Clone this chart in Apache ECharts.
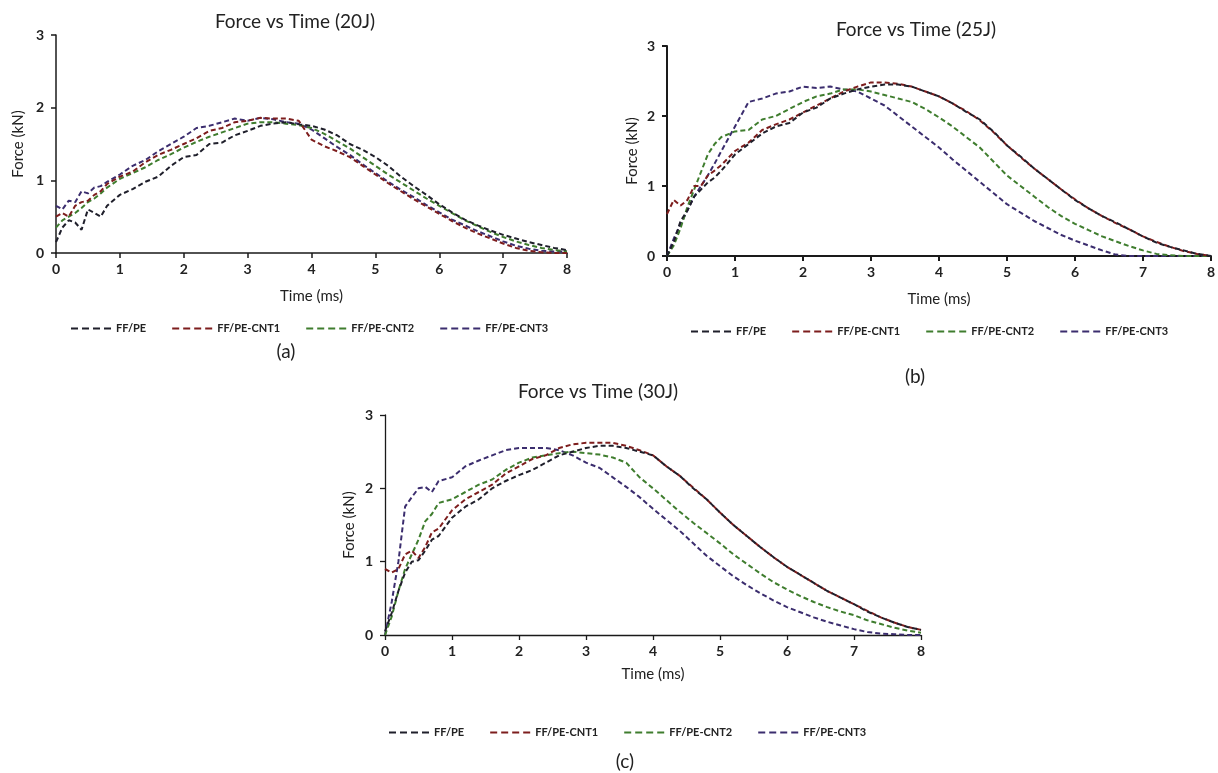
<!DOCTYPE html>
<html>
<head>
<meta charset="utf-8">
<script src="https://cdn.jsdelivr.net/npm/echarts@6/dist/echarts.min.js"></script>
<style>
html,body{margin:0;padding:0;background:#fff;}
#chart{width:1218px;height:773px;}
</style>
</head>
<body>
<div id="chart"></div>
<script>
// Time samples (ms)
const time = [0,0.1,0.2,0.3,0.4,0.5,0.6,0.7,0.8,1.0,1.2,1.4,1.6,1.8,2.0,2.2,2.4,2.6,2.8,3.0,3.2,3.4,3.6,3.8,4.0,4.2,4.4,4.6,4.8,5.0,5.2,5.4,5.6,5.8,6.0,6.2,6.4,6.6,6.8,7.0,7.2,7.4,7.6,7.8,8.0];
const seriesNames = ['FF/PE','FF/PE-CNT1','FF/PE-CNT2','FF/PE-CNT3'];
const xTicks = [0,1,2,3,4,5,6,7,8];
const yTicks = [0,1,2,3];

// (a) 20 J, force in kN
const pe20   = [0.15,0.35,0.45,0.42,0.32,0.6,0.55,0.5,0.65, 0.8,0.88,0.98,1.05,1.2,1.32,1.35,1.5,1.52,1.62,1.68,1.75,1.78,1.8,1.77,1.75, 1.7,1.62,1.5,1.42,1.32,1.2,1.05,0.92,0.8,0.67,0.56,0.46,0.38,0.31,0.25,0.2,0.15,0.11,0.07,0.04];
const cnt1_20 = [0.5,0.55,0.5,0.65,0.7,0.72,0.8,0.85,0.95, 1.05,1.12,1.25,1.35,1.42,1.5,1.58,1.68,1.72,1.8,1.82,1.86,1.85,1.85,1.82,1.56, 1.47,1.4,1.32,1.2,1.08,0.96,0.85,0.74,0.64,0.54,0.44,0.35,0.27,0.2,0.13,0.07,0.03,0.01,0.0,0.0];
const cnt2_20 = [0.35,0.45,0.5,0.55,0.62,0.7,0.75,0.82,0.9, 1.02,1.1,1.18,1.28,1.36,1.45,1.53,1.6,1.66,1.72,1.78,1.8,1.8,1.78,1.76,1.72, 1.64,1.54,1.44,1.32,1.2,1.08,0.97,0.86,0.75,0.65,0.55,0.45,0.37,0.29,0.22,0.16,0.11,0.07,0.04,0.02];
const cnt3_20 = [0.65,0.6,0.72,0.7,0.85,0.82,0.9,0.92,0.98, 1.08,1.2,1.28,1.4,1.5,1.6,1.72,1.75,1.8,1.85,1.82,1.86,1.84,1.8,1.78,1.7, 1.58,1.46,1.35,1.22,1.1,0.98,0.87,0.77,0.66,0.56,0.46,0.38,0.3,0.23,0.16,0.1,0.06,0.03,0.02,0.02];

// (b) 25 J
const pe25   = [0.0,0.2,0.5,0.65,0.85,0.95,1.05,1.12,1.22, 1.45,1.6,1.75,1.85,1.9,2.05,2.12,2.25,2.32,2.38,2.42,2.45,2.45,2.42,2.35,2.28, 2.18,2.06,1.95,1.78,1.58,1.42,1.25,1.1,0.95,0.8,0.68,0.57,0.48,0.38,0.28,0.19,0.13,0.08,0.03,0.0];
const cnt1_25 = [0.6,0.8,0.72,0.8,1.0,1.0,1.15,1.22,1.3, 1.5,1.62,1.8,1.88,1.95,2.05,2.15,2.25,2.35,2.42,2.48,2.48,2.46,2.42,2.35,2.28, 2.18,2.07,1.94,1.77,1.58,1.41,1.25,1.1,0.95,0.81,0.68,0.57,0.47,0.38,0.28,0.2,0.13,0.07,0.03,0.0];
const cnt2_25 = [0.0,0.15,0.4,0.7,0.95,1.2,1.45,1.6,1.7, 1.78,1.8,1.95,2.0,2.1,2.2,2.28,2.32,2.38,2.38,2.35,2.3,2.25,2.2,2.1,1.98, 1.85,1.7,1.55,1.35,1.15,1.0,0.85,0.7,0.57,0.46,0.37,0.28,0.21,0.14,0.08,0.03,0.01,0.0,0.0,0.0];
const cnt3_25 = [0.0,0.25,0.45,0.65,0.85,1.0,1.15,1.32,1.5, 1.85,2.2,2.25,2.32,2.35,2.42,2.4,2.42,2.38,2.35,2.25,2.15,2.0,1.85,1.7,1.55, 1.38,1.22,1.06,0.9,0.74,0.62,0.5,0.4,0.3,0.22,0.15,0.08,0.02,0.0,0.0,0.0,0.0,0.0,0.0,0.0];

// (c) 30 J
const pe30   = [0.05,0.3,0.6,0.85,1.0,1.02,1.15,1.3,1.35, 1.6,1.75,1.85,2.0,2.1,2.18,2.25,2.35,2.45,2.5,2.55,2.58,2.58,2.55,2.5,2.45, 2.3,2.17,2.0,1.85,1.67,1.5,1.35,1.2,1.06,0.93,0.82,0.71,0.6,0.51,0.42,0.32,0.24,0.17,0.11,0.07];
const cnt1_30 = [0.9,0.85,0.9,1.1,1.15,1.05,1.2,1.4,1.45, 1.7,1.85,1.95,2.05,2.2,2.3,2.4,2.45,2.55,2.6,2.62,2.62,2.62,2.58,2.52,2.45, 2.3,2.17,2.01,1.85,1.67,1.5,1.35,1.2,1.06,0.93,0.82,0.71,0.6,0.51,0.42,0.33,0.24,0.17,0.11,0.07];
const cnt2_30 = [0.0,0.25,0.6,0.9,1.1,1.3,1.55,1.65,1.8, 1.85,1.95,2.05,2.12,2.25,2.35,2.42,2.45,2.48,2.5,2.48,2.46,2.42,2.35,2.15,2.0, 1.84,1.68,1.53,1.39,1.25,1.1,0.97,0.84,0.72,0.62,0.53,0.45,0.38,0.32,0.27,0.2,0.15,0.1,0.06,0.03];
const cnt3_30 = [0.0,0.45,1.0,1.75,1.88,2.0,2.02,1.95,2.1, 2.15,2.3,2.38,2.45,2.52,2.55,2.55,2.55,2.52,2.45,2.35,2.28,2.15,2.02,1.88,1.72, 1.57,1.42,1.25,1.08,0.94,0.8,0.68,0.57,0.47,0.38,0.31,0.24,0.18,0.13,0.08,0.04,0.02,0.01,0.0,0.0];

const colors = ['#1f1f2b','#7d1d1d','#3f7d2e','#3b2d6e'];
const FONT = 'Lato, "Open Sans", sans-serif';
const dashIcon = 'path://M0,0h7v2h-7z M11,0h7v2h-7z M22,0h7v2h-7z M33,0h7v2h-7z';

const chartsDef = [
  { title:'Force vs Time (20J)', tag:'(a)', data:[pe20,cnt1_20,cnt2_20,cnt3_20],
    grid:{left:56, top:35, width:511, height:218}, axisW:1.5, yGap:30, xGap:36,
    titlePos:[295,22], tagPos:[286,352], legendPos:[66,318], legendGap:26 },
  { title:'Force vs Time (25J)', tag:'(b)', data:[pe25,cnt1_25,cnt2_25,cnt3_25],
    grid:{left:667, top:46, width:544, height:210}, axisW:2, yGap:27, xGap:36,
    titlePos:[916,30], tagPos:[915,377], legendPos:[686,321], legendGap:26 },
  { title:'Force vs Time (30J)', tag:'(c)', data:[pe30,cnt1_30,cnt2_30,cnt3_30],
    grid:{left:385, top:415, width:536, height:220}, axisW:1.3, yGap:28, xGap:32,
    titlePos:[598,392], tagPos:[625,762], legendPos:[384,722], legendGap:26 }
];

const grid=[], xAxis=[], yAxis=[], series=[], legend=[], graphic=[];
chartsDef.forEach((c, gi) => {
  grid.push(Object.assign({containLabel:false}, c.grid));
  xAxis.push({
    type:'value', gridIndex:gi, min:xTicks[0], max:xTicks[xTicks.length-1], interval:1,
    name:'Time (ms)', nameLocation:'middle', nameGap:c.xGap,
    nameTextStyle:{fontFamily:FONT, fontSize:15, color:'#222'},
    axisLine:{onZero:false, lineStyle:{color:'#1a1a1a', width:c.axisW}},
    axisTick:{show:true, length:5, inside:false, lineStyle:{color:'#1a1a1a', width:c.axisW}},
    axisLabel:{fontFamily:FONT, fontSize:14, fontWeight:'bold', color:'#222', margin:9},
    splitLine:{show:false}
  });
  yAxis.push({
    type:'value', gridIndex:gi, min:yTicks[0], max:yTicks[yTicks.length-1], interval:1,
    name:'Force (kN)', nameLocation:'middle', nameGap:c.yGap, nameRotate:90,
    nameTextStyle:{fontFamily:FONT, fontSize:15, color:'#222'},
    axisLine:{show:true, lineStyle:{color:'#1a1a1a', width:c.axisW}},
    axisTick:{show:true, length:5, inside:false, lineStyle:{color:'#1a1a1a', width:c.axisW}},
    axisLabel:{fontFamily:FONT, fontSize:14, fontWeight:'bold', color:'#222', margin:12},
    splitLine:{show:false}
  });
  c.data.forEach((arr, si) => {
    series.push({
      type:'line', name:seriesNames[si], xAxisIndex:gi, yAxisIndex:gi,
      data: time.map((t,i)=>[t, arr[i]]),
      symbol:'none', showSymbol:false, smooth:false, animation:false,
      lineStyle:{color:colors[si], width:2, type:[5,3]},
      itemStyle:{color:colors[si]},
      z: 2 + (3-si)
    });
  });
  legend.push({
    data:seriesNames.map(n=>({name:n, icon:dashIcon})), left:c.legendPos[0], top:c.legendPos[1],
    orient:'horizontal', itemWidth:40, itemHeight:2.5, itemGap:c.legendGap,
    textStyle:{fontFamily:FONT, fontSize:11, fontWeight:'bold', color:'#222'},
    selectedMode:false
  });
  graphic.push({type:'text', x:c.titlePos[0], y:c.titlePos[1],
    style:{text:c.title, font:'19px '+FONT, fill:'#222', textAlign:'center', align:'center', textVerticalAlign:'middle', verticalAlign:'middle'}});
  graphic.push({type:'text', x:c.tagPos[0], y:c.tagPos[1],
    style:{text:c.tag, font:'19px '+FONT, fill:'#222', textAlign:'center', align:'center', textVerticalAlign:'middle', verticalAlign:'middle'}});
});

const chart = echarts.init(document.getElementById('chart'), null, {renderer:'canvas'});
chart.setOption({
  backgroundColor:'#fff',
  animation:false,
  color:colors,
  grid, xAxis, yAxis, series, legend, graphic
});
</script>
</body>
</html>
